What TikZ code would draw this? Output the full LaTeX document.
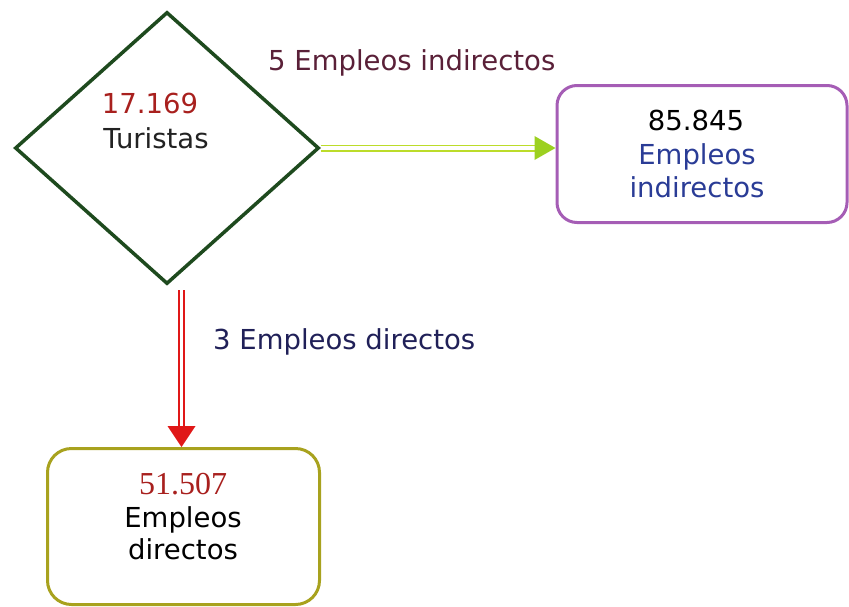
\documentclass[tikz,border=0pt]{standalone}
\usepackage{fontspec}
\setmainfont{DejaVu Sans}
\newfontfamily\serifnum{Liberation Serif}
\usetikzlibrary{shapes.geometric,arrows.meta}
\definecolor{diagreen}{HTML}{1E4A1E}
\definecolor{boxpurple}{HTML}{A55DB5}
\definecolor{boxolive}{HTML}{A8A21E}
\definecolor{arrgreen}{HTML}{BCDC2A}
\definecolor{arrhead}{HTML}{9CD020}
\definecolor{arrred}{HTML}{E01818}
\definecolor{numred}{HTML}{A8201E}
\definecolor{txtblue}{HTML}{2A3C96}
\definecolor{txtmaroon}{HTML}{5A2038}
\definecolor{txtnavy}{HTML}{202058}
\definecolor{txtdark}{HTML}{222222}
\tikzset{
  txt/.style={font=\fontsize{27.5}{34}\selectfont, inner sep=0pt, anchor=base},
  roundbox/.style={rectangle, rounded corners=20pt, line width=3pt, inner sep=0pt},
  rail/.style={line width=1.8pt},
}
\begin{document}
\begin{tikzpicture}[x=1pt,y=-1pt]
\useasboundingbox (0,0) rectangle (849,606);
% diamond
\node[diamond, draw=diagreen, line width=3.5pt, minimum width=304pt, minimum height=272pt, inner sep=0pt, aspect=1.12] (dia) at (167,148) {};
\node[txt, text=numred] (tnum) at (150,113) {17.169};
\node[txt, text=txtdark] (tur) at (156,148) {Turistas};
% boxes
\node[roundbox, draw=boxpurple, minimum width=290pt, minimum height=137pt] (ind) at (702,154) {};
\node[txt, text=black] (inum) at (696,130) {85.845};
\node[txt, text=txtblue] (iemp) at (697,164) {Empleos};
\node[txt, text=txtblue] (iind) at (697,197) {indirectos};
\node[roundbox, draw=boxolive, minimum width=272pt, minimum height=156pt, rounded corners=24pt] (dir) at (183.5,526.5) {};
\node[txt, text=numred, font=\fontsize{32}{34}\serifnum] (dnum) at (183,494) {51.507};
\node[txt, text=black] (demp) at (183,527) {Empleos};
\node[txt, text=black] (ddir) at (183,559) {directos};
% labels
\node[txt, anchor=base west, text=txtmaroon] (lind) at (268,70) {5 Empleos indirectos};
\node[txt, anchor=base west, text=txtnavy] (ldir) at (213,349) {3 Empleos directos};
% red arrow (double rail + head)
\coordinate (rs) at (181.5,290);
\coordinate (re) at (rs |- dir.north);
\draw[rail, arrred] ([xshift=-2.6pt]rs) -- ([xshift=-2.6pt,yshift=19pt]re);
\draw[rail, arrred] ([xshift=2.6pt]rs) -- ([xshift=2.6pt,yshift=19pt]re);
\fill[arrred] (re) -- ++(-14,-21) -- ++(28,0) -- cycle;
% green arrow (double rail + head)
\coordinate (gs) at (dia.east);
\coordinate (ge) at (dia.east -| ind.west);
\draw[rail, arrgreen] ([yshift=-2.6pt]gs) -- ([yshift=-2.6pt,xshift=-19pt]ge);
\draw[rail, arrgreen] ([yshift=2.6pt]gs) -- ([yshift=2.6pt,xshift=-19pt]ge);
\fill[arrhead] (ge) -- ++(-21,-12) -- ++(0,24) -- cycle;
\end{tikzpicture}
\end{document}
